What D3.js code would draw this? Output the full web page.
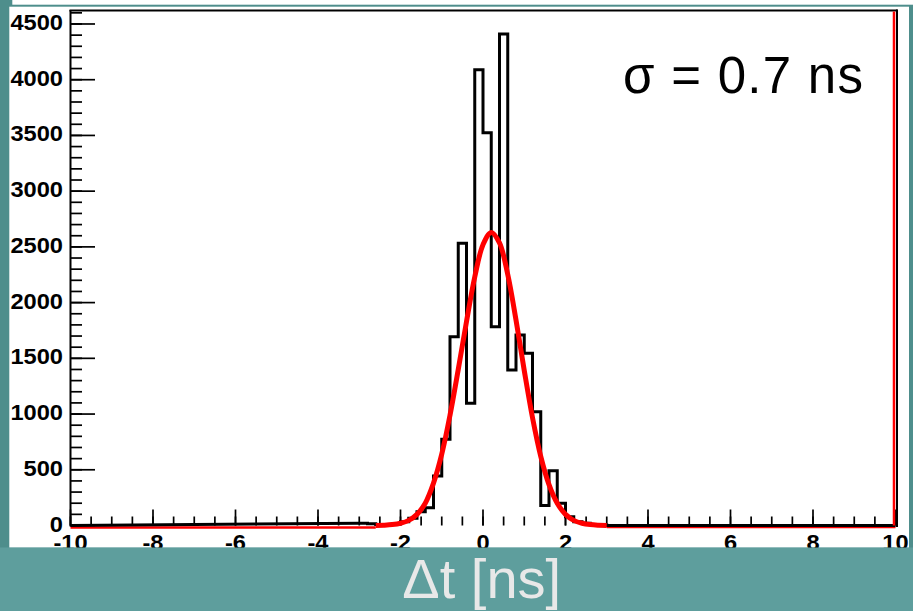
<!DOCTYPE html>
<html><head><meta charset="utf-8">
<script src="https://cdn.jsdelivr.net/npm/d3@7"></script>
<style>html,body{margin:0;padding:0;background:#4E8E8C;}svg{display:block;}</style>
</head><body>
<script>
// ---- data ----
const binLow = [-3.0,-2.8,-2.6,-2.4,-2.2,-2.0,-1.8,-1.6,-1.4,-1.2,-1.0,-0.8,-0.6,-0.4,-0.2,0.0,0.2,0.4,0.6,0.8,1.0,1.2,1.4,1.6,1.8,2.0,2.2,2.4,2.6,2.8];
const binHigh = [-2.8,-2.6,-2.4,-2.2,-2.0,-1.8,-1.6,-1.4,-1.2,-1.0,-0.8,-0.6,-0.4,-0.2,0.0,0.2,0.4,0.6,0.8,1.0,1.2,1.4,1.6,1.8,2.0,2.2,2.4,2.6,2.8,3.0];
const counts = [20,15,10,10,15,34,64,124,160,444,773,1694,2532,1096,4090,3525,1784,4410,1395,1709,1545,1021,180,492,199,79,34,20,10,5];
const fitX = [-2.6,-2.4,-2.2,-2.0,-1.8,-1.6,-1.4,-1.2,-1.0,-0.8,-0.6,-0.4,-0.2,0.0,0.2,0.4,0.6,0.8,1.0,1.2,1.4,1.6,1.8,2.0,2.2,2.4,2.6,2.8,3.0];
const fitY = [1,3,8,20,46,100,200,380,640,990,1400,1830,2230,2520,2630,2535,2252,1844,1391,968,620,366,199,100,46,20,8,3,1];
const xMajorTicks = [-10,-8,-6,-4,-2,0,2,4,6,8,10];
const xTickLabels = ["-10","-8","-6","-4","-2","0","2","4","6","8","10"];
const yMajorTicks = [0,500,1000,1500,2000,2500,3000,3500,4000,4500];
const yTickLabels = ["0","500","1000","1500","2000","2500","3000","3500","4000","4500"];
const xDomain = [-10,10];
const yDomain = [0,4621];
const annotation = "σ = 0.7 ns";
const xTitle = "Δt [ns]";

// ---- layout ----
const W = 913, H = 611;
const svg = d3.select("body").append("svg").attr("width",W).attr("height",H);
svg.append("rect").attr("x",0).attr("y",0).attr("width",W).attr("height",H).attr("fill","#4E8E8C");
svg.append("rect").attr("x",12.3).attr("y",0).attr("width",W-12.3).attr("height",4.7).attr("fill","#ffffff");
svg.append("rect").attr("x",9.3).attr("y",6.7).attr("width",899.7).attr("height",541).attr("fill","#ffffff");

const x = d3.scaleLinear().domain(xDomain).range([70.5,895.5]);
const y = d3.scaleLinear().domain(yDomain).range([525.5,10.5]);

const g = svg.append("g");

// ticks: y axis
const yMinor = d3.range(0, 4601, 100);
g.selectAll(".ymin").data(yMinor).join("line")
  .attr("x1",x(-10)).attr("x2",x(-10)+11.5).attr("y1",d=>y(d)).attr("y2",d=>y(d))
  .attr("stroke","#000").attr("stroke-width",1.7);
g.selectAll(".ymaj").data(yMajorTicks).join("line")
  .attr("x1",x(-10)).attr("x2",x(-10)+24.5).attr("y1",d=>y(d)).attr("y2",d=>y(d))
  .attr("stroke","#000").attr("stroke-width",1.7);
// ticks: x axis
const xMinor = d3.range(-10, 10.01, 0.5);
g.selectAll(".xmin").data(xMinor).join("line")
  .attr("x1",d=>x(d)).attr("x2",d=>x(d)).attr("y1",y(0)).attr("y2",y(0)-9)
  .attr("stroke","#000").attr("stroke-width",1.7);
g.selectAll(".xmaj").data(xMajorTicks).join("line")
  .attr("x1",d=>x(d)).attr("x2",d=>x(d)).attr("y1",y(0)).attr("y2",y(0)-16)
  .attr("stroke","#000").attr("stroke-width",1.7);

// red baseline segments (outside fit range) and right edge
g.append("line").attr("x1",x(-10)).attr("x2",x(fitX[0])).attr("y1",y(0)+2).attr("y2",y(0)+2)
  .attr("stroke","#ff0000").attr("stroke-width",2.5);
g.append("line").attr("x1",x(fitX[fitX.length-1])).attr("x2",x(10)).attr("y1",y(0)+1.5).attr("y2",y(0)+1.5)
  .attr("stroke","#ff0000").attr("stroke-width",2.5);

// histogram outline
const pts = [[xDomain[0],0]];
binLow.forEach((lo,i)=>{ pts.push([lo,counts[i]]); pts.push([binHigh[i],counts[i]]); });
pts.push([binHigh[binHigh.length-1],0]); pts.push([xDomain[1],0]);
g.append("path").datum(pts)
  .attr("d", d3.line().x(d=>x(d[0])).y(d=>y(d[1])))
  .attr("fill","none").attr("stroke","#000").attr("stroke-width",3).attr("stroke-linejoin","miter");

// fit curve
const fitPts = fitX.map((v,i)=>[v,fitY[i]]);
g.append("path").datum(fitPts)
  .attr("d", d3.line().x(d=>x(d[0])).y(d=>y(d[1])).curve(d3.curveCatmullRom))
  .attr("fill","none").attr("stroke","#ff0000").attr("stroke-width",5).attr("stroke-linejoin","round");

// frame
g.append("line").attr("x1",x(-10)).attr("x2",x(-10)).attr("y1",y(yDomain[1])-0.5).attr("y2",y(0)+1)
  .attr("stroke","#000").attr("stroke-width",2);
g.append("line").attr("x1",x(-10)-1).attr("x2",x(10)+2).attr("y1",y(yDomain[1])).attr("y2",y(yDomain[1]))
  .attr("stroke","#000").attr("stroke-width",2);
g.append("line").attr("x1",x(10)+1.5).attr("x2",x(10)+1.5).attr("y1",y(yDomain[1])-1).attr("y2",y(0)+1.5)
  .attr("stroke","#000").attr("stroke-width",2);
g.append("line").attr("x1",x(10)-1.5).attr("x2",x(10)-1.5).attr("y1",y(yDomain[1])+1).attr("y2",y(0))
  .attr("stroke","#ff0000").attr("stroke-width",2.5);

// y tick labels
g.selectAll(".ylab").data(yMajorTicks).join("text")
  .attr("transform",d=>`translate(63,${y(d)+6}) scale(1.1,1)`)
  .attr("text-anchor","end")
  .attr("font-family","'Liberation Sans', Arial, sans-serif").attr("font-weight","bold").attr("font-size",21.5)
  .attr("fill","#000").text((d,i)=>yTickLabels[i]);
// x tick labels
g.selectAll(".xlab").data(xMajorTicks).join("text")
  .attr("transform",d=>`translate(${x(d)},550) scale(1.1,1)`)
  .attr("text-anchor","middle")
  .attr("font-family","'Liberation Sans', Arial, sans-serif").attr("font-weight","bold").attr("font-size",21.5)
  .attr("fill","#000").text((d,i)=>xTickLabels[i]);

// annotation
svg.append("text").attr("x",623).attr("y",93)
  .attr("font-family","'Liberation Sans', Arial, sans-serif").attr("font-size",51)
  .attr("textLength",240).attr("lengthAdjust","spacing")
  .attr("fill","#000").text(annotation);

// bottom teal band (covers lower part of x labels)
svg.append("rect").attr("x",0).attr("y",547.5).attr("width",W).attr("height",H-547.5).attr("fill","#5E9E9D");
svg.append("text").attr("x",481.7).attr("y",598).attr("text-anchor","middle")
  .attr("font-family","'Liberation Sans', Arial, sans-serif").attr("font-size",56)
  .attr("fill","#e8e8e8").text(xTitle);
</script>
</body></html>
